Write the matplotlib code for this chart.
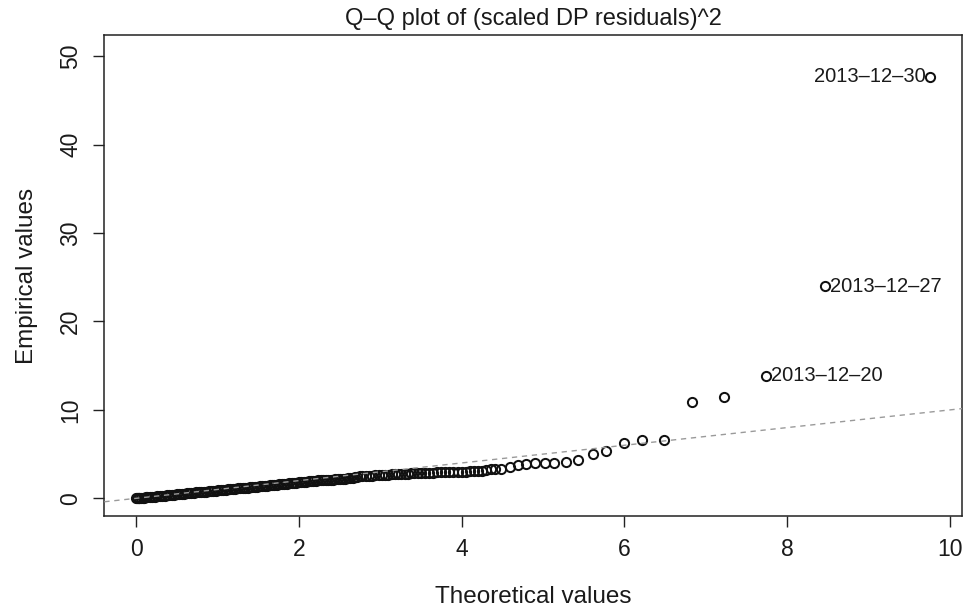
import numpy as np
import matplotlib
matplotlib.use("Agg")
from matplotlib import pyplot as plt

plt.rcParams['font.family'] = ['Liberation Sans', 'DejaVu Sans']

# theoretical quantiles (x) and empirical values (y)
theoretical = [0.00, 0.01, 0.02, 0.03, 0.04, 0.06, 0.08, 0.10, 0.12, 0.14,
               0.17, 0.20, 0.23, 0.26, 0.29, 0.32, 0.35, 0.38, 0.41, 0.44,
               0.47, 0.50, 0.53, 0.56, 0.59, 0.62, 0.65, 0.68, 0.71, 0.74,
               0.77, 0.80, 0.83, 0.86, 0.89, 0.92, 0.95, 0.98, 1.01, 1.04,
               1.07, 1.10, 1.13, 1.16, 1.19, 1.22, 1.25, 1.28, 1.31, 1.34,
               1.37, 1.40, 1.43, 1.46, 1.49, 1.52, 1.55, 1.58, 1.61, 1.64,
               1.67, 1.70, 1.73, 1.76, 1.79, 1.82, 1.85, 1.88, 1.91, 1.94,
               1.97, 2.00, 2.03, 2.06, 2.09, 2.12, 2.15, 2.18, 2.21, 2.24,
               2.27, 2.30, 2.33, 2.36, 2.39, 2.42, 2.45, 2.48, 2.51, 2.54,
               2.57, 2.60, 2.63, 2.66, 2.69, 2.72, 2.75, 2.78, 2.82, 2.86,
               2.90, 2.94, 2.98, 3.02, 3.06, 3.10, 3.14, 3.18, 3.22, 3.26,
               3.30, 3.34, 3.38, 3.42, 3.46, 3.50, 3.55, 3.60, 3.65, 3.70,
               3.75, 3.80, 3.85, 3.90, 3.95, 4.00, 4.05, 4.10, 4.15, 4.20,
               4.25, 4.30,
               4.36, 4.41, 4.49, 4.59, 4.69, 4.79, 4.90, 5.02, 5.14, 5.28,
               5.43, 5.61, 5.78, 6.00, 6.22, 6.49, 6.83, 7.23, 7.74, 8.47,
               9.76]
empirical = [0.00, 0.01, 0.02, 0.03, 0.04, 0.05, 0.07, 0.09, 0.11, 0.12,
             0.15, 0.18, 0.20, 0.23, 0.26, 0.28, 0.31, 0.34, 0.36, 0.39,
             0.42, 0.44, 0.47, 0.50, 0.52, 0.55, 0.58, 0.61, 0.63, 0.66,
             0.69, 0.71, 0.74, 0.77, 0.80, 0.82, 0.85, 0.88, 0.91, 0.93,
             0.96, 0.99, 1.01, 1.04, 1.06, 1.09, 1.12, 1.14, 1.17, 1.19,
             1.22, 1.25, 1.27, 1.30, 1.32, 1.35, 1.38, 1.40, 1.43, 1.46,
             1.48, 1.51, 1.54, 1.57, 1.60, 1.63, 1.66, 1.69, 1.72, 1.75,
             1.78, 1.81, 1.84, 1.87, 1.90, 1.93, 1.96, 1.99, 2.01, 2.03,
             2.05, 2.07, 2.09, 2.10, 2.11, 2.12, 2.13, 2.15, 2.17, 2.20,
             2.23, 2.27, 2.31, 2.35, 2.39, 2.43, 2.47, 2.50, 2.53, 2.56,
             2.58, 2.60, 2.62, 2.64, 2.66, 2.68, 2.70, 2.72, 2.74, 2.76,
             2.77, 2.79, 2.81, 2.82, 2.84, 2.86, 2.87, 2.89, 2.91, 2.93,
             2.94, 2.96, 2.97, 2.99, 3.00, 3.02, 3.03, 3.05, 3.07, 3.09,
             3.12, 3.18,
             3.26, 3.26, 3.37, 3.56, 3.75, 3.87, 3.94, 3.94, 4.01, 4.12,
             4.31, 5.06, 5.35, 6.25, 6.55, 6.55, 10.85, 11.42, 13.85, 23.97,
             47.70]

# labelled outliers: date, point index, side of the text
outlier_dates = ['2013-12-20', '2013-12-27', '2013-12-30']
outlier_index = [-3, -2, -1]
outlier_side = ['right', 'right', 'left']

fig = plt.figure(figsize=(9.66, 6.14), dpi=100)
ax = fig.add_axes([0.108, 0.1596, 0.888, 0.7834])

ax.plot(theoretical, empirical, linestyle='none', marker='o', markersize=6.6,
        markerfacecolor='none', markeredgecolor='#111111', markeredgewidth=1.45,
        zorder=2)
ax.axline((0, 0), slope=1, color='#9a9a9a', linewidth=1.0,
          dashes=(3.8, 3.4), zorder=3)

for d, i, side in zip(outlier_dates, outlier_index, outlier_side):
    txt = d.replace('-', '\u2013')
    if side == 'right':
        ax.annotate(txt, (theoretical[i], empirical[i]), xytext=(3.6, 0),
                    textcoords='offset points', ha='left', va='center',
                    fontsize=14.5, color='#1a1a1a')
    else:
        ax.annotate(txt, (theoretical[i], empirical[i]), xytext=(-3.6, 0),
                    textcoords='offset points', ha='right', va='center',
                    fontsize=14.5, color='#1a1a1a')

ax.set_xlim(-0.39, 10.15)
ax.set_ylim(-2.0, 52.4)
ax.set_xticks([0, 2, 4, 6, 8, 10])
ax.set_yticks([0, 10, 20, 30, 40, 50])
ax.tick_params(axis='both', length=8, width=1, labelsize=16.5, color='#222222',
               labelcolor='#1a1a1a', pad=8)
for lab in ax.get_yticklabels():
    lab.set_rotation(90)
    lab.set_va('center')
for sp in ax.spines.values():
    sp.set_linewidth(1.1)
    sp.set_color('#222222')

ax.set_title('Q\u2013Q plot of (scaled DP residuals)^2', fontsize=17,
             color='#1a1a1a', pad=7)
ax.set_xlabel('Theoretical values', fontsize=17.5, color='#1a1a1a', labelpad=18)
ax.set_ylabel('Empirical values', fontsize=17.5, color='#1a1a1a', labelpad=15)

plt.savefig('out.png', dpi=100)
